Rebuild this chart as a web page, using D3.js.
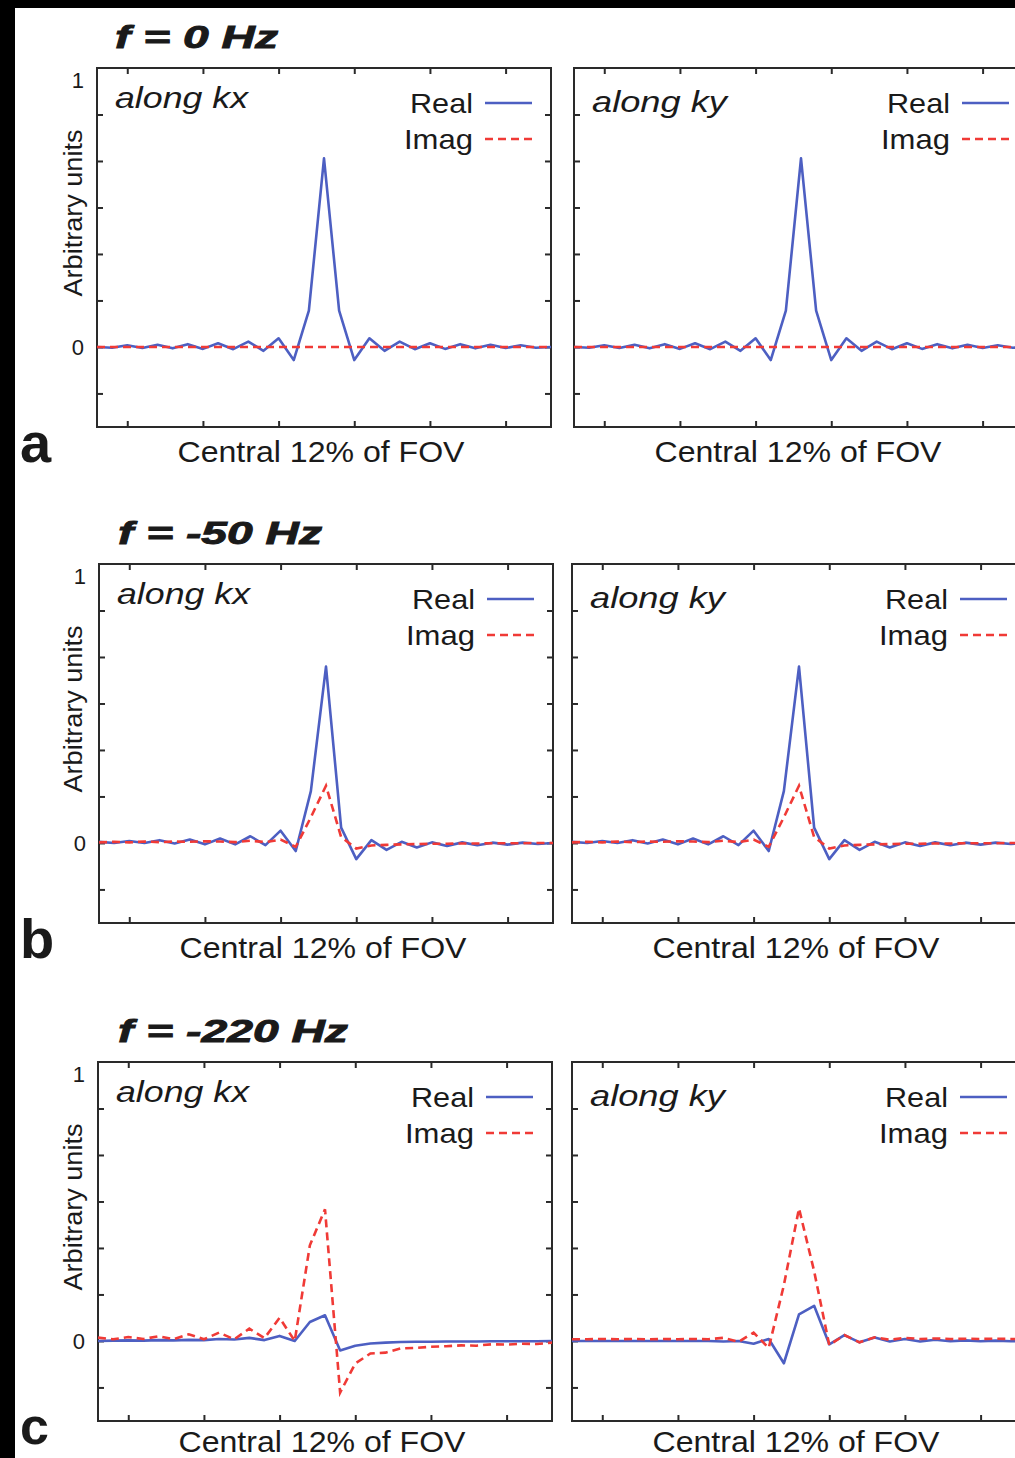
<!DOCTYPE html>
<html>
<head>
<meta charset="utf-8">
<script src="https://cdn.jsdelivr.net/npm/d3@7"></script>
<style>
  html, body { margin: 0; padding: 0; background: #fff; }
  svg { display: block; }
  text { font-family: "Liberation Sans", Arial, Helvetica, sans-serif; fill: #1a1a1a; }
</style>
</head>
<body>
<script>
// ---------------- data ----------------
const sampleIndex = d3.range(31); // 31 samples across the central 12% of FOV
const xTickValues = [2, 7, 12, 17, 22, 27];
const yTickValues = [-1/6, 0, 1/6, 2/6, 3/6, 4/6, 5/6];
const yTickLabels = { "0": "0", "1": "1" };
const seriesNames = ["Real", "Imag"];
const rowTitles = ["f = 0 Hz", "f = -50 Hz", "f = -220 Hz"];
const rowLetters = ["a", "b", "c"];
const panelNames = ["along kx", "along ky"];

const realA_kx = [0, -0.003, 0.006, -0.004, 0.008, -0.005, 0.010, -0.007, 0.013, -0.008, 0.019, -0.014, 0.031, -0.047, 0.130, 0.676, 0.130, -0.047, 0.031, -0.014, 0.019, -0.008, 0.013, -0.007, 0.010, -0.005, 0.008, -0.004, 0.006, -0.003, 0];
const imagA_kx = [0, 0, 0, 0, 0, 0, 0, 0, 0, 0, 0, 0, 0, 0, 0, 0, 0, 0, 0, 0, 0, 0, 0, 0, 0, 0, 0, 0, 0, 0, 0];
const realA_ky = [0, -0.003, 0.006, -0.004, 0.008, -0.005, 0.010, -0.007, 0.013, -0.008, 0.019, -0.014, 0.031, -0.047, 0.130, 0.676, 0.130, -0.047, 0.031, -0.014, 0.019, -0.008, 0.013, -0.007, 0.010, -0.005, 0.008, -0.004, 0.006, -0.003, 0];
const imagA_ky = [0, 0, 0, 0, 0, 0, 0, 0, 0, 0, 0, 0, 0, 0, 0, 0, 0, 0, 0, 0, 0, 0, 0, 0, 0, 0, 0, 0, 0, 0, 0];

const realB_kx = [0.004, 0, 0.007, 0, 0.010, -0.002, 0.012, -0.005, 0.016, -0.005, 0.024, -0.008, 0.044, -0.029, 0.186, 0.632, 0.055, -0.058, 0.010, -0.025, 0.004, -0.016, 0.002, -0.011, 0.002, -0.008, 0.001, -0.006, 0.001, -0.004, 0];
const imagB_kx = [0.002, 0.004, 0.002, 0.005, 0.003, 0.005, 0.004, 0.006, 0.005, 0.003, 0.008, 0.003, 0.012, -0.014, 0.092, 0.205, 0.021, -0.020, -0.009, -0.007, -0.005, -0.004, -0.003, -0.003, -0.002, -0.002, -0.001, -0.001, -0.001, 0, 0];
const realB_ky = [0.004, 0, 0.007, 0, 0.010, -0.002, 0.012, -0.005, 0.016, -0.005, 0.024, -0.008, 0.044, -0.029, 0.186, 0.632, 0.055, -0.058, 0.010, -0.025, 0.004, -0.016, 0.002, -0.011, 0.002, -0.008, 0.001, -0.006, 0.001, -0.004, 0];
const imagB_ky = [0.002, 0.004, 0.002, 0.005, 0.003, 0.005, 0.004, 0.006, 0.005, 0.003, 0.008, 0.003, 0.012, -0.014, 0.092, 0.205, 0.021, -0.020, -0.009, -0.007, -0.005, -0.004, -0.003, -0.003, -0.002, -0.002, -0.001, -0.001, -0.001, 0, 0];

const realC_kx = [0, 0.001, 0.002, 0.001, 0.003, 0.002, 0.004, 0.003, 0.007, 0.005, 0.011, 0.003, 0.018, 0, 0.068, 0.092, -0.034, -0.017, -0.009, -0.006, -0.004, -0.003, -0.003, -0.002, -0.002, -0.002, -0.001, -0.001, -0.001, -0.001, 0];
const imagC_kx = [0.012, 0.006, 0.014, 0.007, 0.017, 0.006, 0.024, 0.006, 0.030, 0.006, 0.044, 0.010, 0.083, 0, 0.343, 0.472, -0.185, -0.081, -0.045, -0.042, -0.027, -0.025, -0.021, -0.019, -0.016, -0.017, -0.012, -0.013, -0.010, -0.011, -0.006];
const realC_ky = [0, 0, 0, 0, 0, 0, 0, 0, 0, 0, -0.002, 0, -0.010, 0.007, -0.080, 0.095, 0.126, -0.012, 0.021, -0.005, 0.012, -0.002, 0.007, -0.002, 0.004, -0.001, 0.002, -0.001, 0.001, -0.001, 0];
const imagC_ky = [0.006, 0.006, 0.007, 0.006, 0.007, 0.006, 0.007, 0.006, 0.007, 0.006, 0.011, -0.003, 0.030, -0.025, 0.200, 0.475, 0.250, -0.015, 0.021, -0.005, 0.013, 0.004, 0.011, 0.007, 0.009, 0.007, 0.008, 0.007, 0.008, 0.007, 0.007];

// ---------------- layout ----------------
const W = 1015, H = 1458;
const PW = 454, PH = 359;
const rows = [
  { top: 68,   lefts: [97, 574], titleX: 115, data: [[realA_kx, imagA_kx], [realA_ky, imagA_ky]] },
  { top: 564,  lefts: [99, 572], titleX: 118, data: [[realB_kx, imagB_kx], [realB_ky, imagB_ky]] },
  { top: 1062, lefts: [98, 572], titleX: 118, data: [[realC_kx, imagC_kx], [realC_ky, imagC_ky]] }
];
const titleWidths = [163, 204, 230];
const BLUE = "#4d5fc2", RED = "#f03a36", FRAME = "#2a2a2a";

const svg = d3.select("body").append("svg").attr("width", W).attr("height", H);
svg.append("rect").attr("width", W).attr("height", H).attr("fill", "#fff");

const x = d3.scaleLinear().domain([0, 30]).range([0, PW]);
const y = d3.scaleLinear().domain([-0.287, 1]).range([PH, 0]);

rows.forEach((row, ri) => {
  const last = ri === rows.length - 1;
  // row title
  svg.append("text")
    .attr("x", row.titleX).attr("y", row.top - 20)
    .attr("font-size", 31).attr("font-weight", "bold").attr("font-style", "italic")
    .attr("stroke", "#1a1a1a").attr("stroke-width", 0.9)
    .attr("textLength", titleWidths[ri]).attr("lengthAdjust", "spacingAndGlyphs")
    .text(rowTitles[ri]);
  // row letter
  svg.append("text")
    .attr("x", 20).attr("y", last ? row.top + 382 : row.top + 394)
    .attr("font-size", last ? 52 : 56).attr("font-weight", "bold")
    .text(rowLetters[ri]);

  row.lefts.forEach((left, pi) => {
    const g = svg.append("g").attr("transform", `translate(${left},${row.top})`);
    const [re, im] = row.data[pi];

    const cid = `clip${ri}${pi}`;
    g.append("clipPath").attr("id", cid).append("rect").attr("width", PW).attr("height", PH);

    // inward ticks on all four sides
    const axL = d3.axisRight(y).tickValues(yTickValues).tickSize(6).tickFormat("");
    const axR = d3.axisLeft(y).tickValues(yTickValues).tickSize(6).tickFormat("");
    const axB = d3.axisTop(x).tickValues(xTickValues).tickSize(6).tickFormat("");
    const axT = d3.axisBottom(x).tickValues(xTickValues).tickSize(6).tickFormat("");
    [[axL, 0, 0], [axR, PW, 0], [axB, 0, PH], [axT, 0, 0]].forEach(([ax, tx, ty]) => {
      const a = g.append("g").attr("transform", `translate(${tx},${ty})`).call(ax);
      a.select(".domain").remove();
      a.selectAll("line").attr("stroke", FRAME).attr("stroke-width", 2);
    });

    g.append("rect").attr("width", PW).attr("height", PH)
      .attr("fill", "none").attr("stroke", FRAME).attr("stroke-width", 2);

    if (pi === 0) {
      const lab = g.append("g").call(
        d3.axisLeft(y).tickValues([0, 1]).tickSize(0).tickPadding(13)
          .tickFormat(d => yTickLabels[String(d)])
      );
      lab.select(".domain").remove();
      lab.selectAll("text").attr("font-size", 22).attr("fill", "#1a1a1a")
        .attr("font-family", '"Liberation Sans", Arial, sans-serif')
        .attr("dy", d => d === 1 ? "0.9em" : "0.35em");

      g.append("text")
        .attr("transform", `translate(${82 - left},${145}) rotate(-90)`)
        .attr("text-anchor", "middle").attr("font-size", 25)
        .attr("textLength", 167).attr("lengthAdjust", "spacingAndGlyphs")
        .text("Arbitrary units");
    }

    // x label
    g.append("text")
      .attr("x", PW / 2 - 3).attr("y", last ? PH + 31 : PH + 35)
      .attr("text-anchor", "middle").attr("font-size", 30)
      .attr("textLength", 287).attr("lengthAdjust", "spacingAndGlyphs")
      .text("Central 12% of FOV");

    // panel name
    g.append("text")
      .attr("x", 18).attr("y", pi === 0 ? 40 : 44)
      .attr("font-size", 30).attr("font-style", "italic")
      .attr("textLength", pi === 0 ? 133 : 135).attr("lengthAdjust", "spacingAndGlyphs")
      .text(panelNames[pi]);

    // series lines
    const line = d3.line().x((d, i) => x(sampleIndex[i])).y(d => y(d));
    const plot = g.append("g").attr("clip-path", `url(#${cid})`);
    plot.append("path").datum(re).attr("d", line)
      .attr("fill", "none").attr("stroke", BLUE).attr("stroke-width", 2.6).attr("stroke-linejoin", "round");
    plot.append("path").datum(im).attr("d", line)
      .attr("fill", "none").attr("stroke", RED).attr("stroke-width", 2.6)
      .attr("stroke-dasharray", "8,5");

    // legend
    const lg = [
      { name: seriesNames[0], ty: 45, ly: 35, color: BLUE, dash: null, tl: 63 },
      { name: seriesNames[1], ty: 81, ly: 71, color: RED, dash: "8,5", tl: 69 }
    ];
    lg.forEach(l => {
      g.append("text").attr("x", 376).attr("y", l.ty).attr("text-anchor", "end")
        .attr("font-size", 28).attr("textLength", l.tl).attr("lengthAdjust", "spacingAndGlyphs")
        .text(l.name);
      g.append("line").attr("x1", 388).attr("x2", 435).attr("y1", l.ly).attr("y2", l.ly)
        .attr("stroke", l.color).attr("stroke-width", 2.6)
        .attr("stroke-dasharray", l.dash);
    });
  });
});

// black border bands of the reference image
svg.append("rect").attr("x", 0).attr("y", 0).attr("width", W).attr("height", 8).attr("fill", "#000");
svg.append("rect").attr("x", 0).attr("y", 0).attr("width", 15).attr("height", H).attr("fill", "#000");
</script>
</body>
</html>
